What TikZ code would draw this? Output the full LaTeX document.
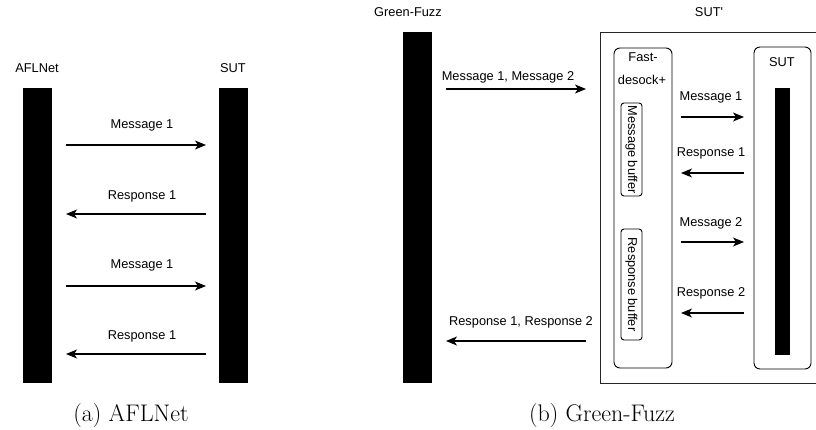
\documentclass[tikz,border=0pt]{standalone}
\usepackage{fontspec}
\newfontfamily\diasans{Liberation Sans}
\usetikzlibrary{arrows.meta}
\begin{document}
\begin{tikzpicture}[x=1pt,y=-1pt,
  lbl/.style={font=\diasans\fontsize{12.8}{15}\selectfont, inner sep=0, text=black},
  bar/.style={fill=black, draw=none, inner sep=0},
  arr/.style={-{Stealth[length=11pt,width=9pt,inset=3pt]}, line width=1.2pt},
  rbox/.style={draw, rounded corners=6pt, line width=0.9pt},
  sbox/.style={draw, rounded corners=3pt, line width=0.9pt},
  captxt/.style={font=\fontsize{24}{28}\selectfont, inner sep=0, anchor=base}]
\useasboundingbox (0,0) rectangle (816,430);

% ---------- (a) AFLNet ----------
\node[lbl] (aflLabel) at (37,68) {AFLNet};
\node[bar, minimum width=29pt, minimum height=295pt] (afl) at (37.5,235.5) {};
\node[lbl] (sutLabel) at (233,68) {SUT};
\node[bar, minimum width=29pt, minimum height=295pt] (sut) at (233.5,235.5) {};

\coordinate (a1s) at (66,145);  \coordinate (a1e) at (206,145);
\coordinate (a2s) at (206,214); \coordinate (a2e) at (66,214);
\coordinate (a3s) at (66,286);  \coordinate (a3e) at (206,286);
\coordinate (a4s) at (206,354); \coordinate (a4e) at (66,354);
\draw[arr] (a1s) -- (a1e);
\draw[arr] (a2s) -- (a2e);
\draw[arr] (a3s) -- (a3e);
\draw[arr] (a4s) -- (a4e);
\node[lbl] (la1) at (142,125) {Message 1};
\node[lbl] (la2) at (142,196) {Response 1};
\node[lbl] (la3) at (142,265) {Message 1};
\node[lbl] (la4) at (142,336) {Response 1};

% ---------- (b) Green-Fuzz ----------
\node[lbl] (gfLabel) at (408,12) {Green-Fuzz};
\node[bar, minimum width=29pt, minimum height=351pt] (gf) at (417.5,207.5) {};
\node[lbl] (sutpLabel) at (709,12) {SUT'};
\draw[line width=0.9pt, black!85] (816,32) -- (600,32) -- (600,383) -- (816,383);

\draw[rbox] (614,48) rectangle (672,368);
\node[lbl] (fd1) at (643,57) {Fast-};
\node[lbl] (fd2) at (642,80) {desock+};
\draw[sbox] (621,103) rectangle (642,196);
\node[lbl, rotate=-90] (mbuf) at (631.5,149.5) {Message buffer};
\draw[sbox] (621,229) rectangle (642,340);
\node[lbl, rotate=-90] (rbuf) at (631.5,284.5) {Response buffer};

\draw[rbox] (754,47) rectangle (811,369);
\node[lbl] (sutIn) at (782,62) {SUT};
\node[bar, minimum width=15pt, minimum height=267pt] (sutbar) at (782.5,221.5) {};

\coordinate (b0s) at (446,89);  \coordinate (b0e) at (586,89);
\coordinate (b5s) at (586,341); \coordinate (b5e) at (446,341);
\draw[arr] (b0s) -- (b0e);
\draw[arr] (b5s) -- (b5e);
\node[lbl] (lb0) at (508,77) {Message 1, Message 2};
\node[lbl] (lb5) at (521,322) {Response 1, Response 2};

\coordinate (b1s) at (681,117); \coordinate (b1e) at (744,117);
\coordinate (b2s) at (744,173); \coordinate (b2e) at (681,173);
\coordinate (b3s) at (681,242); \coordinate (b3e) at (744,242);
\coordinate (b4s) at (744,313); \coordinate (b4e) at (681,313);
\draw[arr] (b1s) -- (b1e);
\draw[arr] (b2s) -- (b2e);
\draw[arr] (b3s) -- (b3e);
\draw[arr] (b4s) -- (b4e);
\node[lbl] (lb1) at (711,97) {Message 1};
\node[lbl] (lb2) at (711,153) {Response 1};
\node[lbl] (lb3) at (711,223) {Message 2};
\node[lbl] (lb4) at (711,293) {Response 2};

% ---------- captions ----------
\node[captxt] (capa) at (131,421) {(a) AFLNet};
\node[captxt] (capb) at (602,421) {(b) Green-Fuzz};
\end{tikzpicture}
\end{document}
